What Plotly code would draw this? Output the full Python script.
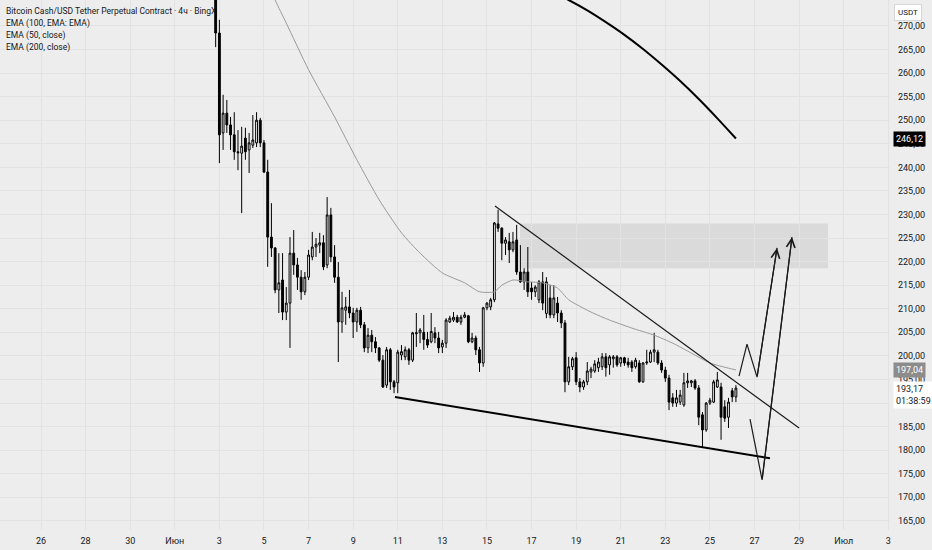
import plotly.graph_objects as go
import pandas as pd

# ---------------- data ----------------
start_time = "2024-06-02 20:00"   # first visible 4h candle

opens = [280.0, 268.5, 247.3, 251.5, 249.0, 246.9, 243.3, 243.0, 246.2, 243.7,
         244.7, 245.2, 250.0, 245.2, 239.0, 225.2, 222.9, 214.0, 216.1, 209.3,
         211.2, 221.8, 219.3, 216.7, 213.6, 216.7, 221.0, 223.1, 223.5, 224.0,
         219.3, 229.9, 221.0, 216.7, 207.2, 209.7, 210.4, 209.1, 207.2, 209.7,
         206.6, 201.7, 204.4, 203.0, 201.7, 199.1, 193.8, 201.3, 194.5, 194.3,
         200.2, 199.8, 201.3, 199.1, 204.7, 204.9, 205.0, 203.5, 203.0, 204.9,
         203.8, 201.9, 202.7, 207.2, 207.6, 208.2, 207.2, 208.2, 208.5, 203.0,
         203.8, 201.3, 198.5, 210.2, 210.4, 211.9, 228.0, 227.1, 223.9, 224.2,
         222.5, 224.6, 217.8, 215.7, 217.8, 214.4, 213.6, 211.9, 215.7, 209.0,
         212.3, 208.7, 211.2, 209.1, 207.0, 194.5, 197.7, 199.6, 194.5, 193.4,
         194.5, 196.6, 196.8, 197.5, 197.7, 199.8, 198.1, 199.4, 199.8, 198.5,
         199.6, 198.7, 198.7, 197.7, 198.5, 194.5, 198.5, 198.7, 200.8, 200.8,
         198.5, 197.0, 195.3, 191.1, 190.0, 190.2, 189.6, 194.3, 194.3, 194.7,
         193.2, 187.5, 184.3, 190.0, 190.2, 193.4, 193.4, 189.2, 187.0, 192.6,
         191.3]
highs = [284.0, 271.3, 255.4, 254.3, 250.7, 251.7, 247.9, 248.6, 248.4, 247.3,
         251.1, 251.7, 250.5, 245.8, 241.6, 232.4, 223.1, 221.8, 221.8, 214.6,
         225.2, 226.7, 220.8, 218.2, 217.8, 222.5, 226.3, 225.0, 226.1, 225.6,
         233.7, 231.4, 223.5, 219.9, 213.6, 212.5, 214.0, 210.2, 210.2, 210.4,
         207.2, 205.9, 205.5, 204.0, 201.9, 200.2, 201.9, 201.7, 194.9, 201.3,
         202.3, 202.0, 201.7, 205.1, 209.1, 205.9, 208.7, 205.1, 209.1, 206.1,
         205.1, 203.4, 208.0, 208.5, 209.3, 208.7, 208.7, 209.3, 208.7, 204.9,
         204.3, 201.9, 210.4, 211.4, 212.3, 228.4, 231.0, 227.3, 225.2, 226.1,
         226.3, 227.8, 223.5, 218.6, 223.1, 215.7, 215.0, 216.1, 217.8, 216.7,
         215.0, 215.0, 212.5, 209.7, 207.6, 199.8, 199.8, 200.8, 195.3, 194.9,
         198.7, 197.7, 199.1, 199.6, 200.6, 200.6, 200.2, 200.2, 200.2, 199.8,
         199.8, 199.6, 199.1, 199.6, 199.1, 198.7, 201.3, 201.3, 204.9, 201.3,
         199.1, 197.7, 196.0, 192.1, 192.8, 192.8, 196.4, 196.4, 194.9, 195.1,
         193.8, 188.1, 190.2, 191.1, 194.9, 196.6, 194.3, 190.6, 191.1, 193.2,
         193.8]
lows = [265.5, 240.9, 243.7, 247.3, 243.7, 241.6, 239.4, 230.3, 241.6, 238.8,
        244.1, 244.3, 244.3, 238.8, 218.9, 221.0, 213.3, 209.1, 207.6, 207.6,
        201.7, 217.2, 214.0, 211.9, 212.9, 216.1, 220.3, 221.0, 221.8, 218.2,
        218.6, 219.9, 215.5, 198.7, 204.9, 206.6, 208.0, 203.8, 205.1, 205.9,
        200.8, 200.6, 200.8, 200.6, 198.7, 193.2, 193.2, 192.8, 192.1, 192.1,
        199.1, 199.1, 198.1, 198.7, 201.9, 202.7, 201.3, 201.7, 202.7, 202.7,
        200.6, 200.6, 201.7, 207.0, 207.2, 207.0, 206.6, 208.0, 202.7, 202.7,
        200.2, 196.6, 197.7, 209.7, 209.7, 211.4, 226.3, 220.3, 221.4, 219.7,
        222.0, 217.2, 215.5, 214.0, 212.5, 211.9, 212.5, 211.2, 209.7, 208.0,
        208.0, 208.0, 207.2, 205.9, 192.3, 193.8, 197.0, 193.8, 192.3, 192.8,
        193.8, 195.3, 196.4, 196.6, 197.0, 195.6, 196.0, 197.5, 197.7, 197.7,
        197.9, 197.5, 196.6, 197.3, 194.3, 194.3, 198.1, 198.5, 198.7, 198.1,
        196.4, 194.5, 188.5, 189.2, 189.2, 189.6, 189.2, 193.2, 193.4, 192.8,
        185.3, 180.7, 183.9, 189.6, 190.0, 193.2, 182.2, 186.0, 184.7, 190.2,
        190.2]
closes = [268.5, 246.9, 251.5, 249.0, 246.9, 243.3, 243.1, 244.5, 243.3, 245.2,
          245.8, 250.0, 245.2, 239.0, 225.2, 222.9, 214.0, 215.5, 209.3, 211.2,
          221.8, 219.3, 216.7, 213.6, 216.7, 221.4, 223.1, 223.7, 224.0, 218.9,
          229.9, 221.0, 216.7, 207.2, 210.2, 210.4, 209.1, 207.2, 209.7, 206.6,
          201.7, 204.4, 203.0, 201.7, 199.1, 193.4, 201.3, 194.5, 193.4, 200.8,
          200.9, 201.3, 199.1, 204.9, 204.9, 205.5, 203.5, 202.3, 205.2, 203.8,
          201.7, 202.7, 207.6, 208.0, 208.2, 207.2, 208.2, 208.7, 203.0, 203.8,
          201.3, 198.5, 210.2, 211.2, 211.9, 228.2, 227.1, 223.9, 224.6, 222.5,
          224.2, 217.8, 215.7, 217.8, 213.6, 213.6, 214.6, 215.7, 211.2, 215.7,
          208.7, 212.3, 209.1, 207.0, 194.5, 197.7, 199.4, 194.5, 193.4, 194.5,
          196.8, 197.2, 198.3, 198.7, 199.8, 197.5, 199.8, 199.8, 198.1, 199.6,
          198.5, 198.1, 197.5, 199.1, 194.5, 198.5, 198.7, 200.8, 201.3, 198.5,
          197.0, 195.3, 190.2, 190.0, 191.1, 191.7, 194.3, 194.7, 194.7, 193.2,
          187.0, 184.3, 190.0, 190.6, 194.5, 194.9, 187.0, 186.8, 190.2, 191.3,
          193.17]

# EMA lines: candle index -> value
ema50_idx = [10, 16, 19, 25, 32, 38, 44, 50, 55, 61, 67, 71, 75, 77, 80, 84,
             88, 92, 95, 101, 106, 112, 118, 123, 128, 133, 138, 140]
ema50_val = [287.0, 275.5, 270.6, 260.7, 250.7, 241.6, 233.1, 226.1, 221.8,
             217.6, 215.5, 213.6, 213.6, 215.0, 216.1, 215.7, 215.5, 214.4,
             211.9, 209.3, 207.6, 205.9, 204.4, 202.7, 200.6, 198.5, 197.4, 197.04]
ema200_idx = [90, 95, 100, 105, 110, 115, 120, 125, 130, 135, 140]
ema200_val = [277.4, 275.5, 273.3, 270.8, 268.1, 265.1, 261.8, 258.3, 254.5, 250.4, 246.12]

# drawings
upper_t = ["2024-06-15 08:40", "2024-06-29 00:00"]
upper_p = [231.8, 184.7]
lower_t = ["2024-06-10 21:00", "2024-06-27 16:40"]
lower_p = [191.3, 178.3]
zone_t = ["2024-06-16 11:35", "2024-06-30 07:10"]
zone_p = [218.6, 228.1]
path1_t = ["2024-06-26 07:20", "2024-06-26 15:55", "2024-06-27 02:45", "2024-06-28 00:15"]
path1_p = [195.7, 202.5, 195.5, 222.9]
path2_t = ["2024-06-26 19:10", "2024-06-27 08:10", "2024-06-28 16:20"]
path2_p = [186.6, 173.7, 225.2]

# axes
x_range = ["2024-05-24 03:51", "2024-07-03 01:51"]
y_range = [163.07, 275.5]
x_tick_dates = ["2024-05-26", "2024-05-28", "2024-05-30", "2024-06-01", "2024-06-03",
                "2024-06-05", "2024-06-07", "2024-06-09", "2024-06-11", "2024-06-13",
                "2024-06-15", "2024-06-17", "2024-06-19", "2024-06-21", "2024-06-23",
                "2024-06-25", "2024-06-27", "2024-06-29", "2024-07-01", "2024-07-03"]
x_tick_labels = ["26", "28", "30", "Июн", "3", "5", "7", "9", "11", "13", "15", "17",
                 "19", "21", "23", "25", "27", "29", "Июл", "3"]
y_tick_vals = [165, 170, 175, 180, 185, 190, 195, 200, 205, 210, 215, 220, 225,
               230, 235, 240, 245, 250, 255, 260, 265, 270]
y_tick_labels = ["%d,00" % v for v in y_tick_vals]

legend_lines = ["Bitcoin Cash/USD Tether Perpetual Contract · 4ч · BingX",
                "EMA (100, EMA: EMA)", "EMA (50, close)", "EMA (200, close)"]
last_price = closes[-1]
countdown = "01:38:59"

# ---------------- figure ----------------
FONT = "Roboto, Liberation Sans, Arial, sans-serif"
BG = "#ededed"
GRID = "#e2e2e2"
TXT = "#131722"

t0 = pd.Timestamp(start_time)
times = [t0 + pd.Timedelta(hours=4 * i) for i in range(len(opens))]
ema50_t = [t0 + pd.Timedelta(hours=4 * i) for i in ema50_idx]
ema200_t = [t0 + pd.Timedelta(hours=4 * i) for i in ema200_idx]

fig = go.Figure()

fig.add_shape(type="rect", xref="x", yref="y", x0=zone_t[0], x1=zone_t[1],
              y0=zone_p[0], y1=zone_p[1], fillcolor="#dadada", line=dict(width=0),
              layer="below")

fig.add_trace(go.Scatter(x=ema50_t, y=ema50_val, mode="lines",
                         line=dict(color="#9a9a9a", width=1, shape="spline", smoothing=0.6),
                         hoverinfo="skip", showlegend=False))
fig.add_trace(go.Scatter(x=ema200_t, y=ema200_val, mode="lines",
                         line=dict(color="#000000", width=2, shape="spline", smoothing=1.0),
                         hoverinfo="skip", showlegend=False))

fig.add_trace(go.Candlestick(
    x=times, open=opens, high=highs, low=lows, close=closes,
    increasing=dict(line=dict(color="#000000", width=1), fillcolor="#ffffff"),
    decreasing=dict(line=dict(color="#000000", width=1), fillcolor="#000000"),
    whiskerwidth=0, hoverinfo="skip", showlegend=False))

fig.add_trace(go.Scatter(x=upper_t, y=upper_p, mode="lines",
                         line=dict(color="#1a1a1a", width=1.2), hoverinfo="skip", showlegend=False))
fig.add_trace(go.Scatter(x=lower_t, y=lower_p, mode="lines",
                         line=dict(color="#000000", width=2), hoverinfo="skip", showlegend=False))
fig.add_trace(go.Scatter(x=path1_t, y=path1_p, mode="lines",
                         line=dict(color="#1a1a1a", width=1.2), hoverinfo="skip", showlegend=False))
fig.add_trace(go.Scatter(x=path2_t, y=path2_p, mode="lines",
                         line=dict(color="#1a1a1a", width=1.2), hoverinfo="skip", showlegend=False))

annotations = []
for pt, pp in ((path1_t, path1_p), (path2_t, path2_p)):
    annotations.append(dict(x=pt[-1], y=pp[-1], ax=pt[-2], ay=pp[-2], xref="x", yref="y",
                            axref="x", ayref="y", showarrow=True, arrowhead=5,
                            arrowsize=1.4, arrowwidth=1.2, arrowcolor="#1a1a1a", text="",
                            standoff=0, startstandoff=0))

for k, line in enumerate(legend_lines):
    annotations.append(dict(x=0, y=1, xref="paper", yref="paper", xanchor="left",
                            yanchor="middle", xshift=4, yshift=-11 - 12 * k, text=line,
                            showarrow=False, font=dict(family=FONT, size=8.5, color=TXT)))

annotations.append(dict(x=1, y=1, xref="paper", yref="paper", xanchor="left", yanchor="top",
                        xshift=4, yshift=-4, text="USDT", showarrow=False,
                        bgcolor="#ffffff", bordercolor="#d6d6d6", borderwidth=1, borderpad=3,
                        font=dict(family=FONT, size=8, color=TXT)))
annotations.append(dict(x=1, y=ema200_val[-1], xref="paper", yref="y", xanchor="left",
                        yanchor="middle", xshift=3, text=("%.2f" % ema200_val[-1]).replace(".", ","),
                        showarrow=False, bgcolor="#000000", borderpad=2,
                        font=dict(family=FONT, size=9, color="#ffffff")))
annotations.append(dict(x=1, y=ema50_val[-1], xref="paper", yref="y", xanchor="left",
                        yanchor="middle", xshift=3, text=("%.2f" % ema50_val[-1]).replace(".", ","),
                        showarrow=False, bgcolor="#8c8c8c", borderpad=2,
                        font=dict(family=FONT, size=9, color="#ffffff")))
annotations.append(dict(x=1, y=last_price, xref="paper", yref="y", xanchor="left",
                        yanchor="top", xshift=3, yshift=7,
                        text=("%.2f" % last_price).replace(".", ",") + "<br>" + countdown,
                        showarrow=False, bgcolor="#ffffff", borderpad=2, align="left",
                        font=dict(family=FONT, size=9, color=TXT)))

fig.update_layout(
    width=932, height=550,
    margin=dict(l=0, r=42, t=0, b=20),
    paper_bgcolor=BG, plot_bgcolor=BG,
    showlegend=False, hovermode=False,
    annotations=annotations,
    xaxis=dict(type="date", range=x_range, tickvals=x_tick_dates, ticktext=x_tick_labels,
               showgrid=True, gridcolor=GRID, gridwidth=1, zeroline=False, showline=False,
               ticks="", ticklabelstandoff=4, tickfont=dict(family=FONT, size=9, color=TXT),
               rangeslider=dict(visible=False), fixedrange=True),
    yaxis=dict(side="right", range=y_range, tickvals=y_tick_vals, ticktext=y_tick_labels,
               showgrid=True, gridcolor=GRID, gridwidth=1, zeroline=False, showline=False,
               ticks="", ticklabelstandoff=7, tickfont=dict(family=FONT, size=9, color=TXT),
               fixedrange=True),
)

fig.write_html("out.html", config={"displayModeBar": False},
               post_script="document.body.style.margin='0';document.body.style.overflow='hidden';")
